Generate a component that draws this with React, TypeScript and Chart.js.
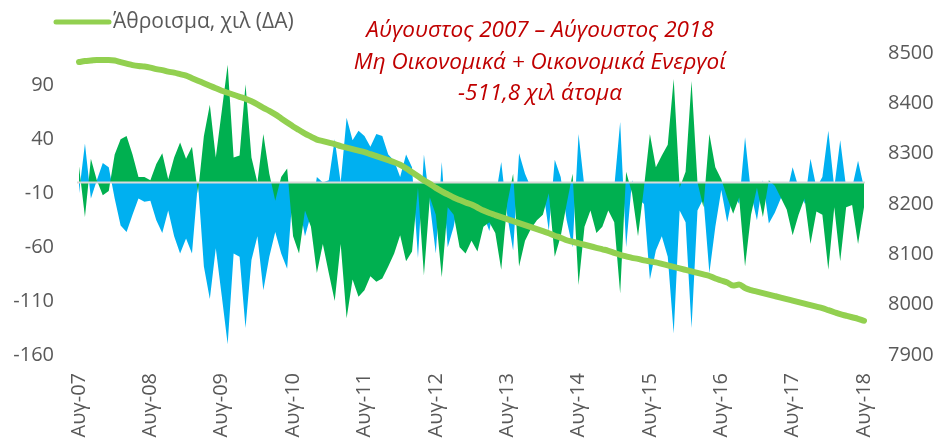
import React, { useEffect, useRef } from "react";
import { Chart, registerables } from "chart.js";

Chart.register(...registerables);

// ---- categories (monthly, Aug-2007 .. Aug-2018) ----
const MONTH_NAMES = ["Ιαν", "Φεβ", "Μαρ", "Απρ", "Μαϊ", "Ιουν", "Ιουλ", "Αυγ", "Σεπ", "Οκτ", "Νοε", "Δεκ"];
const START_YEAR = 2007;
const START_MONTH = 7; // August (0-based)
const N_MONTHS = 133;
const categories: string[] = Array.from({ length: N_MONTHS }, (_, i) => {
  const m = (START_MONTH + i) % 12;
  const y = START_YEAR + Math.floor((START_MONTH + i) / 12);
  return `${MONTH_NAMES[m]}-${String(y % 100).padStart(2, "0")}`;
});

// ---- series (left axis, thousands) ----
const economicallyActive: number[] = [
  15, -32, 22, 2, -12, -8, 26, 40, 43, 26, 5, 5, 2, 17, 27, 3, 23, 37, 22, 33, -10, 43, 72,
  23, 66, 109, 23, 25, 91, 23, 0, 45, 8, -17, 5, 13, -50, -66, -26, -41, -84, -57, -84, -110,
  -57, -126, -90, -106, -100, -87, -92, -89, -78, -66, -49, -73, -64, -5, -86, -14, -30, -88, -23, -30, -60, -66,
  -54, -64, -41, -37, -47, -81, -20, 8, -78, -54, -43, -35, -30, -10, -69, -50, -20, 8, -95, -41, -26, -47,
  -41, -26, -37, -103, 10, -10, -50, -5, 45, 14, 25, 35, 96, -5, 10, 94, 0, -23, 45, 14, 3, -14,
  -29, -14, -78, -30, -5, -32, 2, -3, -14, -25, -49, -30, -15, -57, -27, -30, -81, -23, -73, -23, -21, -57, -23,
];

const economicallyInactive: number[] = [
  -10, 36, -15, 2, 18, 14, -15, -40, -46, -30, -15, -18, -17, -35, -47, -26, -50, -66, -52, -66, 0, -78, -108,
  -61, -105, -150, -66, -69, -135, -72, -50, -100, -69, -46, -66, -80, -5, -20, -50, -30, 5, 0, 2, 40,
  0, 60, 39, 48, 43, 33, 45, 43, 26, 20, 5, 26, 14, -70, 26, -20, -66, 19, -60, -41, -10, 0,
  -5, -10, -30, -45, -15, 19, -30, -63, 27, 8, -5, -10, -5, -45, 21, 5, -35, -60, 45, -5, -10, -20,
  -10, -15, -5, 56, -60, 2, -15, -20, -90, -63, -50, -69, -140, -26, -37, -135, -26, -15, -84, -41, -7, -37,
  -10, -20, 42, -10, -35, 2, -38, -28, -15, -10, 14, -5, -20, 22, -5, 5, 48, -5, 39, -5, -5, 20, -5,
];

// ---- total (right axis, thousands) ----
const totalPopulation: number[] = [
  8482, 8484, 8485, 8486, 8486, 8486, 8485, 8482, 8479, 8476, 8474, 8473, 8471, 8468, 8466, 8463, 8461, 8458, 8455, 8450,
  8445, 8440, 8435, 8430, 8425, 8421, 8417, 8413, 8409, 8404, 8398, 8391, 8385, 8378, 8370, 8362, 8354, 8347, 8340, 8334,
  8328, 8325, 8322, 8319, 8315, 8312, 8309, 8306, 8303, 8299, 8295, 8291, 8287, 8283, 8278, 8271, 8263, 8255, 8247, 8240,
  8232, 8225, 8219, 8213, 8208, 8203, 8199, 8193, 8187, 8182, 8178, 8174, 8170, 8166, 8162, 8158, 8154, 8150, 8146, 8142,
  8137, 8133, 8128, 8125, 8122, 8119, 8116, 8113, 8110, 8107, 8103, 8099, 8096, 8093, 8091, 8088, 8086, 8084, 8081, 8078,
  8075, 8072, 8069, 8066, 8063, 8060, 8057, 8052, 8048, 8044, 8038, 8040, 8033, 8029, 8026, 8023, 8020, 8017, 8014, 8011,
  8008, 8005, 8002, 7999, 7996, 7993, 7989, 7985, 7981, 7978, 7975, 7972, 7968,
];

// ---- tick labels ----
const leftTicks: number[] = [-160, -110, -60, -10, 40, 90];
const rightTicks: number[] = [7900, 8000, 8100, 8200, 8300, 8400, 8500];
const LEFT_MIN = -160;
const LEFT_MAX = 120;
const RIGHT_MIN = 7900;
const RIGHT_MAX = 8500;

// ---- texts ----
const legendLabel = "Άθροισμα, χιλ (ΔΑ)";
const titleLines: string[] = [
  "Αύγουστος 2007 – Αύγουστος 2018",
  "Μη Οικονομικά + Οικονομικά Ενεργοί",
  "-511,8 χιλ άτομα",
];

// ---- styles ----
const GREEN = "#00B050";
const BLUE = "#00B0F0";
const LINE_GREEN = "#92D050";
const AXIS_TEXT = "#595959";
const ZERO_LINE = "#D9D9D9";
const TITLE_RED = "#C00000";
const FONT = '"Open Sans", "Noto Sans", sans-serif';

const overlayPlugin = {
  id: "overlayText",
  beforeDatasetDraw(chart: any, args: any) {
    // zero line drawn above the areas but below the total line
    if (args.meta.yAxisID === "y1") {
      const y = chart.scales.y.getPixelForValue(0);
      const { left, right } = chart.chartArea;
      const ctx = chart.ctx;
      ctx.save();
      ctx.strokeStyle = ZERO_LINE;
      ctx.lineWidth = 2;
      ctx.beginPath();
      ctx.moveTo(left - 2, y);
      ctx.lineTo(right + 1, y);
      ctx.stroke();
      ctx.restore();
    }
  },
  afterDraw(chart: any) {
    const ctx = chart.ctx;
    ctx.save();
    // legend
    ctx.strokeStyle = LINE_GREEN;
    ctx.lineWidth = 5;
    ctx.lineCap = "round";
    ctx.beginPath();
    ctx.moveTo(56, 22);
    ctx.lineTo(109, 22);
    ctx.stroke();
    ctx.fillStyle = AXIS_TEXT;
    ctx.font = `21px ${FONT}`;
    ctx.textBaseline = "middle";
    ctx.textAlign = "left";
    ctx.fillText(legendLabel, 113, 22);
    // annotation
    ctx.fillStyle = TITLE_RED;
    ctx.font = `italic 22.5px ${FONT}`;
    ctx.textAlign = "center";
    titleLines.forEach((t, k) => ctx.fillText(t, 540, 31 + k * 31.5));
    ctx.restore();
  },
};

export default function App() {
  const canvasRef = useRef<HTMLCanvasElement | null>(null);

  useEffect(() => {
    if (!canvasRef.current) return;
    const chart = new Chart(canvasRef.current, {
      type: "line",
      data: {
        labels: categories,
        datasets: [
          {
            label: legendLabel,
            data: totalPopulation,
            yAxisID: "y1",
            borderColor: LINE_GREEN,
            backgroundColor: LINE_GREEN,
            borderWidth: 6,
            borderCapStyle: "round",
            borderJoinStyle: "round",
            pointRadius: 0,
            cubicInterpolationMode: "monotone",
            fill: false,
            order: 1,
          },
          {
            label: "Οικονομικά Ενεργοί",
            data: economicallyActive,
            yAxisID: "y",
            borderWidth: 0,
            borderColor: GREEN,
            backgroundColor: GREEN,
            pointRadius: 0,
            tension: 0,
            fill: "origin",
            order: 2,
          },
          {
            label: "Μη Οικονομικά Ενεργοί",
            data: economicallyInactive,
            yAxisID: "y",
            borderWidth: 0,
            borderColor: BLUE,
            backgroundColor: BLUE,
            pointRadius: 0,
            tension: 0,
            fill: "origin",
            order: 3,
          },
        ],
      },
      options: {
        responsive: false,
        animation: false,
        layout: { padding: { top: 53, left: 12, right: 12, bottom: 2 } },
        plugins: {
          legend: { display: false },
          tooltip: { enabled: false },
          title: { display: false },
        },
        scales: {
          x: {
            type: "category",
            offset: false,
            grid: { display: false, drawTicks: false },
            border: { display: false },
            afterFit: (scale: any) => {
              scale.height = 84;
            },
            ticks: {
              autoSkip: false,
              maxRotation: 90,
              minRotation: 90,
              padding: 18,
              color: AXIS_TEXT,
              font: { family: FONT, size: 20 },
              callback: (_v: any, idx: number) => (idx % 12 === 0 ? categories[idx] : null),
            },
          },
          y: {
            position: "left",
            min: LEFT_MIN,
            max: LEFT_MAX,
            grid: { display: false, drawTicks: false },
            border: { display: false },
            afterBuildTicks: (scale: any) => {
              scale.ticks = leftTicks.map((v) => ({ value: v }));
            },
            afterFit: (scale: any) => {
              scale.width = 67;
            },
            ticks: {
              padding: 25,
              color: AXIS_TEXT,
              font: { family: FONT, size: 20 },
              callback: (v: any) => String(v),
            },
          },
          y1: {
            position: "right",
            min: RIGHT_MIN,
            max: RIGHT_MAX,
            grid: { display: false, drawTicks: false },
            border: { display: false },
            afterBuildTicks: (scale: any) => {
              scale.ticks = rightTicks.map((v) => ({ value: v }));
            },
            afterFit: (scale: any) => {
              scale.width = 70;
            },
            ticks: {
              padding: 24,
              color: AXIS_TEXT,
              font: { family: FONT, size: 20 },
              callback: (v: any) => String(v),
            },
          },
        },
      },
      plugins: [overlayPlugin],
    });
    return () => chart.destroy();
  }, []);

  return (
    <div style={{ position: "absolute", left: 0, top: 0, width: 946, height: 441, background: "#fff" }}>
      <canvas ref={canvasRef} width={946} height={441} style={{ display: "block" }} />
    </div>
  );
}
